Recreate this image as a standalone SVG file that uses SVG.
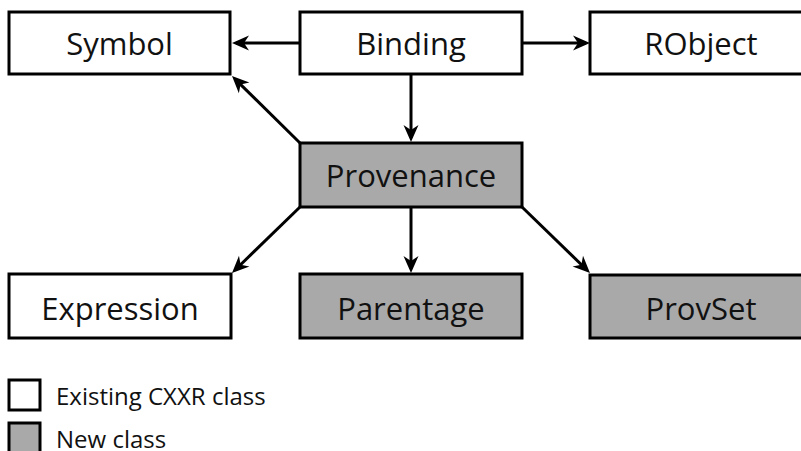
<svg xmlns="http://www.w3.org/2000/svg" width="801" height="451" viewBox="0 0 801 451">
<style>
.box{stroke:#000;stroke-width:3;}
.old{fill:#fff;}
.new{fill:#a9a9a9;}
.lbl{font-family:"Open Sans","Noto Sans",sans-serif;font-size:31px;fill:#111;text-anchor:middle;}
.leg{font-family:"Open Sans","Noto Sans",sans-serif;font-size:24px;fill:#111;}
.edge{stroke:#000;stroke-width:3;fill:none;marker-end:url(#ah);}
</style>
<defs>
<marker id="ah" markerUnits="userSpaceOnUse" viewBox="-14 -9 19 18" refX="0" refY="0" markerWidth="19" markerHeight="18" orient="auto" overflow="visible">
<path d="M4,0 L-13,-7.5 L-8,0 L-13,7.5 z" fill="#000"/>
</marker>
</defs>
<rect width="801" height="451" fill="#fff"/>
<g id="connectors">
<line class="edge" x1="300" y1="43" x2="236" y2="43"/>
<line class="edge" x1="522" y1="43" x2="586" y2="43"/>
<line class="edge" x1="411" y1="74" x2="411" y2="138"/>
<line class="edge" x1="300" y1="143" x2="234.85" y2="78.81"/>
<line class="edge" x1="300" y1="207" x2="234.87" y2="270.21"/>
<line class="edge" x1="411" y1="207" x2="411" y2="269"/>
<line class="edge" x1="522" y1="207" x2="587.13" y2="270.21"/>
</g>
<g id="symbol"><rect class="box old" x="9" y="12" width="221" height="62"/><text class="lbl" x="119.5" y="55">Symbol</text></g>
<g id="binding"><rect class="box old" x="300" y="12" width="222" height="62"/><text class="lbl" x="411" y="55">Binding</text></g>
<g id="robject"><rect class="box old" x="590" y="12" width="222" height="62"/><text class="lbl" x="701" y="55">RObject</text></g>
<g id="provenance"><rect class="box new" x="300" y="143" width="222" height="64"/><text class="lbl" x="411" y="187">Provenance</text></g>
<g id="expression"><rect class="box old" x="9" y="274" width="222" height="64"/><text class="lbl" x="120" y="320">Expression</text></g>
<g id="parentage"><rect class="box new" x="300" y="274" width="222" height="64"/><text class="lbl" x="411" y="320">Parentage</text></g>
<g id="provset"><rect class="box new" x="590" y="275" width="222" height="63"/><text class="lbl" x="701" y="320">ProvSet</text></g>
<g id="legend">
<rect class="box old" x="9" y="380" width="31" height="30"/>
<text class="leg" x="56" y="405">Existing CXXR class</text>
<rect class="box new" x="9" y="423" width="31" height="30"/>
<text class="leg" x="56" y="448">New class</text>
</g>
</svg>
